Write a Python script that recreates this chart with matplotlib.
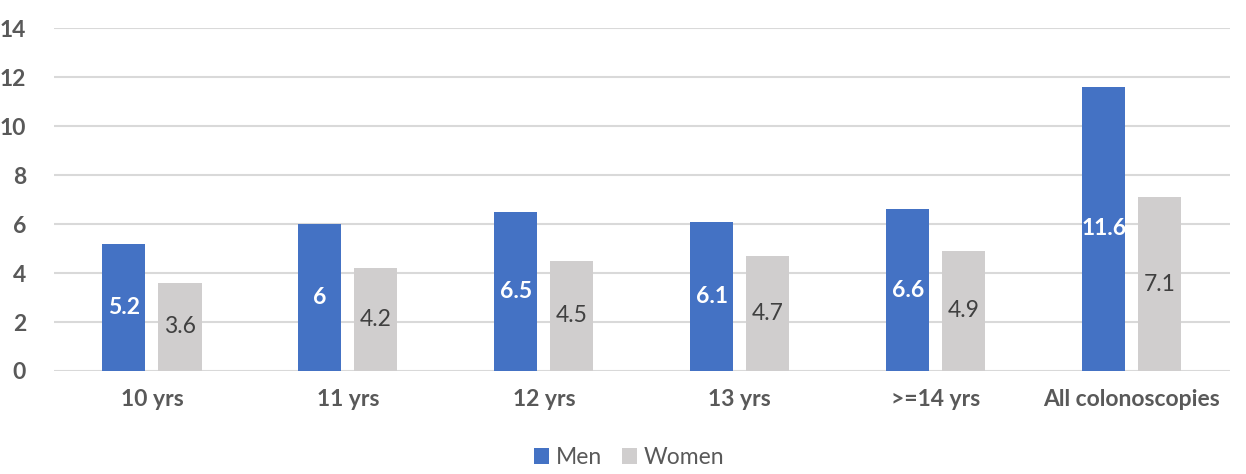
import matplotlib.pyplot as plt
import numpy as np

categories = ["10 yrs", "11 yrs", "12 yrs", "13 yrs", ">=14 yrs", "All colonoscopies"]
men = [5.2, 6, 6.5, 6.1, 6.6, 11.6]
women = [3.6, 4.2, 4.5, 4.7, 4.9, 7.1]
men_labels = ["5.2", "6", "6.5", "6.1", "6.6", "11.6"]
women_labels = ["3.6", "4.2", "4.5", "4.7", "4.9", "7.1"]

plt.rcParams['font.family'] = ['Lato', 'DejaVu Sans']
fs = 16.5

fig = plt.figure(figsize=(12.46, 4.74), dpi=100)
ax = fig.add_axes([0.0433, 0.2173, 0.9437, 0.7236])

x = np.arange(len(categories))
w = 0.22
off = 0.143
b1 = ax.bar(x - off, men, w, color="#4472C4", label="Men", zorder=3)
b2 = ax.bar(x + off, women, w, color="#D0CECE", label="Women", zorder=3)

for rect, lab in zip(b1, men_labels):
    ax.text(rect.get_x() + rect.get_width() / 2, rect.get_height() / 2, lab,
            ha='center', va='center', color='white', fontsize=fs, fontweight='bold', zorder=4)
for rect, lab in zip(b2, women_labels):
    ax.text(rect.get_x() + rect.get_width() / 2, rect.get_height() / 2, lab,
            ha='center', va='center', color='#404040', fontsize=fs, zorder=4)

ax.set_xlim(-0.5, len(categories) - 0.5)
ax.set_ylim(0, 14)
ax.set_yticks(np.arange(0, 15, 2))
ax.set_xticks(x)
ax.set_xticklabels(categories)
ax.grid(axis='y', color='#D9D9D9', linewidth=1.5, zorder=0)
for s in ax.spines.values():
    s.set_visible(False)
ax.tick_params(length=0, labelsize=fs, labelcolor='#595959')
ax.tick_params(axis='x', pad=13)
ax.tick_params(axis='y', pad=20)
for t in ax.get_xticklabels() + ax.get_yticklabels():
    t.set_fontweight('bold')

leg = fig.legend(loc='center', bbox_to_anchor=(0.505, 0.035), ncol=2, frameon=False,
                 fontsize=fs, handlelength=0.65, handleheight=0.65, handletextpad=0.3,
                 columnspacing=0.9)
for t in leg.get_texts():
    t.set_color('#595959')

fig.savefig("out.png", dpi=100)
